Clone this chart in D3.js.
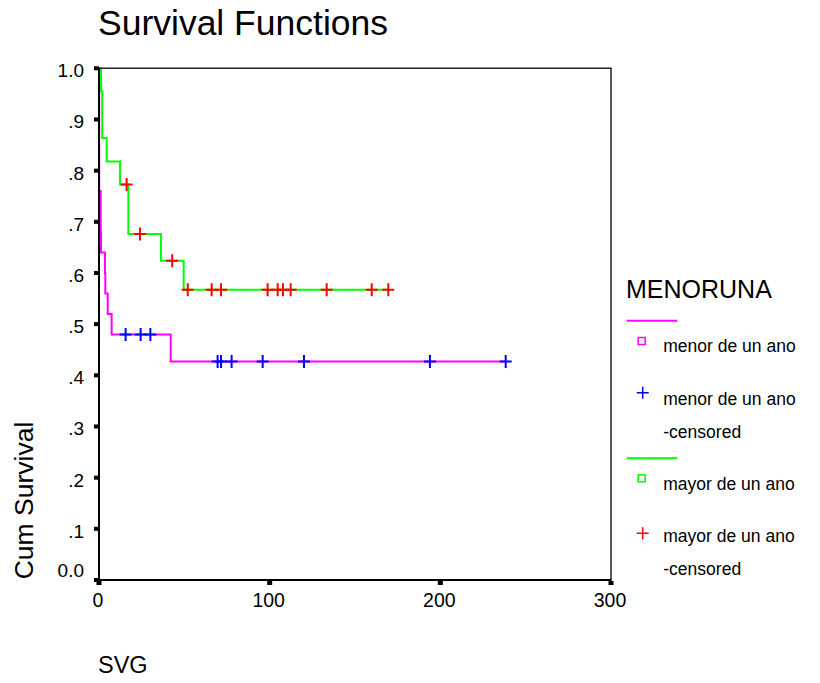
<!DOCTYPE html>
<html>
<head>
<meta charset="utf-8">
<script src="https://cdn.jsdelivr.net/npm/d3@7"></script>
<style>
  html, body { margin: 0; padding: 0; background: #fff; }
  svg { display: block; }
  text { font-family: "Liberation Sans", Arial, sans-serif; fill: #000; }
</style>
</head>
<body>
<svg id="chart" width="820" height="683"></svg>
<script>
// Kaplan-Meier estimates, SVG (time) by MENORUNA group
const mayorTimes = [0, 1.2, 1.9, 4.5, 12.3, 17.2, 36.3, 49.6];
const mayorSurv  = [1.0, 0.955, 0.864, 0.818, 0.773, 0.676, 0.624, 0.567];
const mayorCensored = [16.2, 24.0, 42.9, 52.0, 66.0, 71.5, 98.8, 104.7, 107.8, 112.3, 133.4, 159.8, 169.5];

const menorTimes = [0, 0.1, 1.0, 1.2, 3.5, 3.7, 5.1, 7.4, 42.0];
const menorSurv  = [1.0, 0.76, 0.68, 0.64, 0.60, 0.56, 0.52, 0.48, 0.427];
const menorCensored = [15.6, 24.4, 30.1, 69.5, 71.5, 77.7, 95.9, 120.1, 193.9, 238.3];

const xTicks = [0, 100, 200, 300];
const yTicks = [0, 0.1, 0.2, 0.3, 0.4, 0.5, 0.6, 0.7, 0.8, 0.9, 1.0];
const yTickLabels = ["0.0", ".1", ".2", ".3", ".4", ".5", ".6", ".7", ".8", ".9", "1.0"];

const groups = [
  { name: "menor de un ano", times: menorTimes, surv: menorSurv, censored: menorCensored,
    line: "#ff00ff", mark: "#0000ff" },
  { name: "mayor de un ano", times: mayorTimes, surv: mayorSurv, censored: mayorCensored,
    line: "#00ff00", mark: "#ff0000" }
];

const svg = d3.select("#chart");
const pLeft = 99, pRight = 611, pTop = 68.3, pBottom = 580;

const x = d3.scaleLinear().domain([0, 300]).range([pLeft, pRight]);
const y = d3.scaleLinear().domain([0, 1]).range([pBottom, pTop]);

// survival value of a step function at time t
function survAt(g, t) {
  const i = d3.bisectRight(g.times, t) - 1;
  return g.surv[Math.max(0, i)];
}

// title
svg.append("text").attr("x", 98).attr("y", 35)
  .style("font-size", "35.5px").text("Survival Functions");

// step curves
const plot = svg.append("g");
const line = d3.line().x(d => x(d[0])).y(d => y(d[1])).curve(d3.curveStepAfter);
groups.forEach(g => {
  const pts = g.times.map((t, i) => [t, g.surv[i]]);
  const tEnd = d3.max(g.censored);
  pts.push([tEnd, survAt(g, tEnd)]);
  plot.append("path").datum(pts)
    .attr("d", line)
    .attr("fill", "none")
    .attr("stroke", g.line)
    .attr("stroke-width", 2);
});

// censored marks
function plus(sel, cx, cy, w, h, color, sw) {
  sel.append("path")
    .attr("d", `M${cx - w / 2},${cy}H${cx + w / 2}M${cx},${cy - h / 2}V${cy + h / 2}`)
    .attr("stroke", color).attr("stroke-width", sw).attr("fill", "none");
}
groups.forEach(g => {
  g.censored.forEach(t => plus(plot, x(t), y(survAt(g, t)), 12, 13, g.mark, 2));
});

// frame and axes
svg.append("path")
  .attr("d", `M${pLeft},${pTop}H${pRight}V${pBottom}`)
  .attr("fill", "none").attr("stroke", "#222").attr("stroke-width", 1.5);
svg.append("line").attr("x1", pLeft).attr("x2", pLeft).attr("y1", pTop - 0.5).attr("y2", pBottom + 1)
  .attr("stroke", "#000").attr("stroke-width", 2);
svg.append("line").attr("x1", pLeft - 1).attr("x2", pRight + 0.5).attr("y1", pBottom).attr("y2", pBottom)
  .attr("stroke", "#000").attr("stroke-width", 2);

// y ticks and labels
yTicks.forEach((v, i) => {
  svg.append("rect").attr("x", pLeft - 5).attr("y", y(v) - 2).attr("width", 5).attr("height", 4).attr("fill", "#000");
  svg.append("text")
    .attr("x", 84)
    .attr("y", y(v) + (v === 0 ? -3 : 9))
    .attr("text-anchor", "end")
    .style("font-size", "19px")
    .text(yTickLabels[i]);
});

// x ticks and labels
xTicks.forEach(v => {
  svg.append("rect").attr("x", x(v) - 2.5).attr("y", pBottom + 1).attr("width", 5).attr("height", 4).attr("fill", "#000");
  svg.append("text")
    .attr("x", x(v) - 1)
    .attr("y", 606.5)
    .attr("text-anchor", "middle")
    .style("font-size", "19.5px")
    .text(v);
});

// axis titles
svg.append("text")
  .attr("transform", "translate(33,500.5) rotate(-90)")
  .attr("text-anchor", "middle")
  .style("font-size", "26.5px")
  .text("Cum Survival");
svg.append("text").attr("x", 98).attr("y", 673)
  .style("font-size", "23.5px").text("SVG");

// legend
const lg = svg.append("g");
lg.append("text").attr("x", 626).attr("y", 298.3).style("font-size", "25px").text("MENORUNA");
const legendRows = [
  { type: "line", color: "#ff00ff", y: 320.7 },
  { type: "square", color: "#ff00ff", y: 341, label: ["menor de un ano"], ty: 351.7 },
  { type: "plus", color: "#0000ff", y: 392.7, label: ["menor de un ano", "-censored"], ty: 405 },
  { type: "line", color: "#00ff00", y: 458.3 },
  { type: "square", color: "#00ff00", y: 478.3, label: ["mayor de un ano"], ty: 490 },
  { type: "plus", color: "#ff0000", y: 533.3, label: ["mayor de un ano", "-censored"], ty: 541.7 }
];
legendRows.forEach(r => {
  if (r.type === "line") {
    lg.append("line").attr("x1", 626.7).attr("x2", 677.3).attr("y1", r.y).attr("y2", r.y)
      .attr("stroke", r.color).attr("stroke-width", 2);
  } else if (r.type === "square") {
    lg.append("rect").attr("x", 641.7 - 3.5).attr("y", r.y - 3.5).attr("width", 7).attr("height", 7)
      .attr("fill", "none").attr("stroke", r.color).attr("stroke-width", 1.5);
  } else {
    plus(lg, 642.7, r.y, 12, 12, r.color, 1.5);
  }
  if (r.label) {
    r.label.forEach((s, k) => {
      lg.append("text").attr("x", 663.3).attr("y", r.ty + k * 33.3)
        .style("font-size", "17.5px").text(s);
    });
  }
});
</script>
</body>
</html>
